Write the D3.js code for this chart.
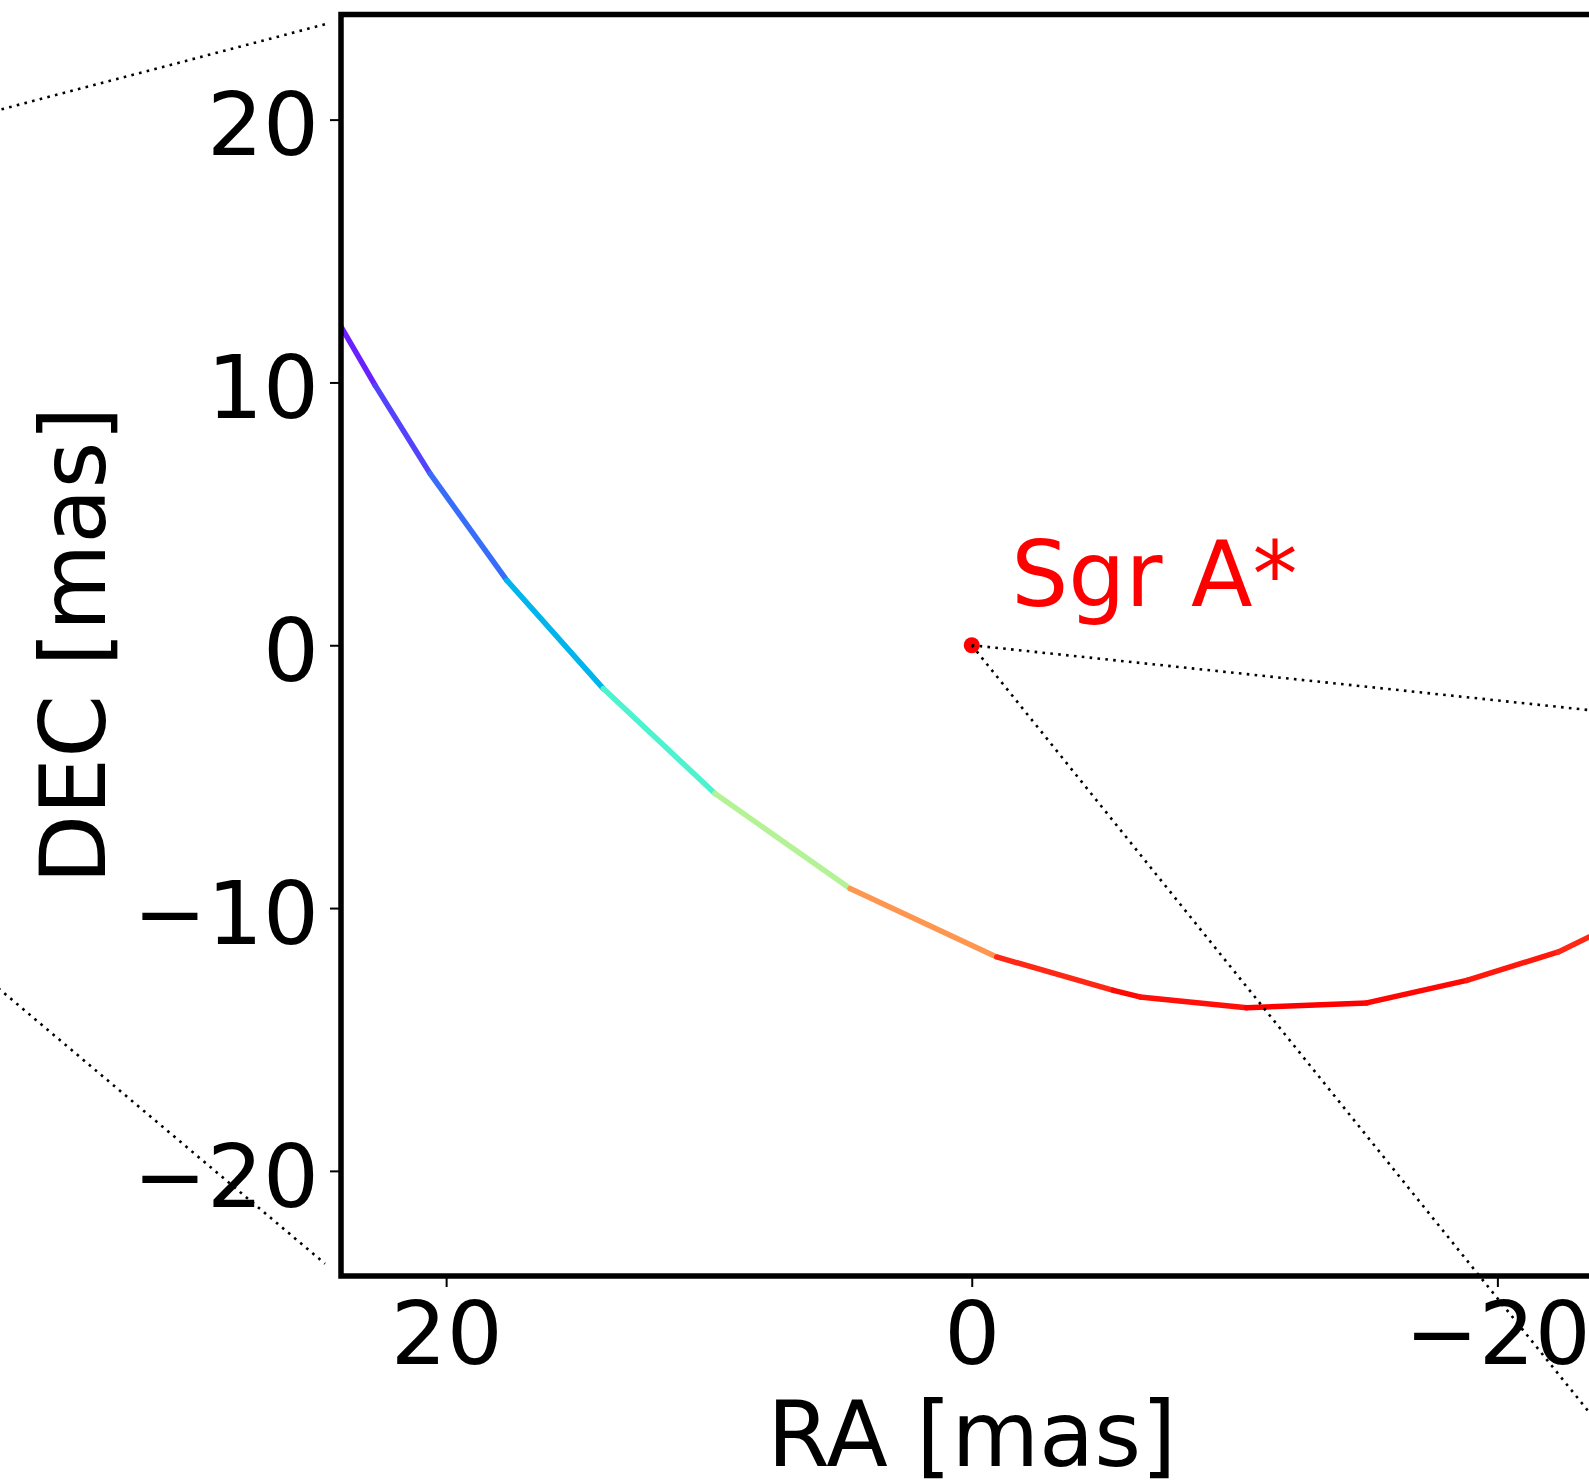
<!DOCTYPE html>
<html>
<head>
<meta charset="utf-8">
<script src="https://cdn.jsdelivr.net/npm/d3@7"></script>
<style>
  html, body { margin: 0; padding: 0; background: #fff; }
  svg { display: block; font-family: "DejaVu Sans", sans-serif; }
</style>
</head>
<body>
<div id="canvas"></div>
<script>
// orbit track (RA, DEC in mas) and colour value of each piece
const trackRA  = [24.4, 22.7, 20.61, 17.69, 14.02, 9.77, 4.63, -0.95, -5.39, -6.40, -10.46, -15.03, -18.84, -22.32, -24.6];
const trackDEC = [12.81, 9.89, 6.53, 2.47, -1.65, -5.64, -9.26, -11.86, -13.13, -13.38, -13.79, -13.61, -12.75, -11.67, -10.56];
const trackValue = [0.04, 0.085, 0.14, 0.25, 0.4, 0.6, 0.8, 0.95, 0.99, 0.98, 1.0, 0.99, 0.97, 0.95];

// Sgr A*
const sgrLabel = "Sgr A*";
const sgrPos = [0, 0];
const sgrLabelPos = [-1.5, 1.5];

// dotted connector lines, [RA1, DEC1, RA2, DEC2]
const connectors = [
  [0, 0, -30, -3.15],
  [0, 0, -26, -32.3],
  [37.5, 20.24, 24.48, 23.66],
  [37.5, -12.66, 24.61, -23.53]
];

const xTicks = [20, 0, -20];
const yTicks = [20, 10, 0, -10, -20];
const xLabel = "RA [mas]";
const yLabel = "DEC [mas]";

const width = 1589;
const height = 1481;
const margin = { top: 14.5, left: 341, bottom: 1481 - 1276, right: 1589 - 1602.5 };
const iwidth = width - margin.left - margin.right;
const iheight = height - margin.top - margin.bottom;

const svg = d3.select("#canvas").append("svg")
  .attr("width", width)
  .attr("height", height);

svg.append("rect").attr("width", width).attr("height", height).attr("fill", "#fff");

const g = svg.append("g").attr("transform", `translate(${margin.left},${margin.top})`);

const x = d3.scaleLinear().domain([24, -24]).range([0, iwidth]);
const y = d3.scaleLinear().domain([24, -24]).range([0, iheight]);

// matplotlib "rainbow"
const rainbow = t => {
  const c = v => Math.round(255 * Math.max(0, Math.min(1, v)));
  return `rgb(${c(Math.abs(2 * t - 0.5))},${c(Math.sin(Math.PI * t))},${c(Math.cos(Math.PI * t / 2))})`;
};

g.append("clipPath").attr("id", "clip")
  .append("rect").attr("width", iwidth).attr("height", iheight);

const segs = trackValue.map((v, i) => ({
  x1: trackRA[i], y1: trackDEC[i], x2: trackRA[i + 1], y2: trackDEC[i + 1], v: v
}));

g.append("g").attr("clip-path", "url(#clip)")
  .selectAll("line").data(segs).enter().append("line")
  .attr("x1", d => x(d.x1)).attr("y1", d => y(d.y1))
  .attr("x2", d => x(d.x2)).attr("y2", d => y(d.y2))
  .attr("stroke", d => rainbow(d.v))
  .attr("stroke-width", 5.5)
  .attr("stroke-linecap", "round");

// Sgr A*
g.append("circle")
  .attr("cx", x(sgrPos[0])).attr("cy", y(sgrPos[1]))
  .attr("r", 8).attr("fill", "red");

g.append("text")
  .attr("x", x(sgrLabelPos[0])).attr("y", y(sgrLabelPos[1]))
  .attr("fill", "red")
  .style("font-size", "90px")
  .text(sgrLabel);

g.append("g").selectAll("line").data(connectors).enter().append("line")
  .attr("x1", d => x(d[0])).attr("y1", d => y(d[1]))
  .attr("x2", d => x(d[2])).attr("y2", d => y(d[3]))
  .attr("stroke", "#000")
  .attr("stroke-width", 2.6)
  .attr("stroke-dasharray", "2.6,5.3");

// axes
const xAxis = g.append("g")
  .attr("transform", `translate(0,${iheight})`)
  .call(d3.axisBottom(x).tickValues(xTicks).tickSizeInner(11).tickSizeOuter(0).tickPadding(15));
const yAxis = g.append("g")
  .call(d3.axisLeft(y).tickValues(yTicks).tickSizeInner(11).tickSizeOuter(0).tickPadding(11));

[xAxis, yAxis].forEach(a => {
  a.select(".domain").remove();
  a.selectAll(".tick line").attr("stroke", "#000").attr("stroke-width", 2);
  a.selectAll(".tick text").attr("fill", "#000")
    .style("font-size", "88px").style("font-family", "DejaVu Sans");
});
yAxis.selectAll(".tick text").attr("dy", "0.4em");

g.append("rect")
  .attr("width", iwidth).attr("height", iheight)
  .attr("fill", "none").attr("stroke", "#000").attr("stroke-width", 5.5);

g.append("text")
  .attr("x", iwidth / 2).attr("y", 1466 - margin.top)
  .attr("text-anchor", "middle")
  .style("font-size", "90px")
  .text(xLabel);

g.append("text")
  .attr("transform", `translate(${104.5 - margin.left},${iheight / 2}) rotate(-90)`)
  .attr("text-anchor", "middle")
  .style("font-size", "90px")
  .text(yLabel);
</script>
</body>
</html>
